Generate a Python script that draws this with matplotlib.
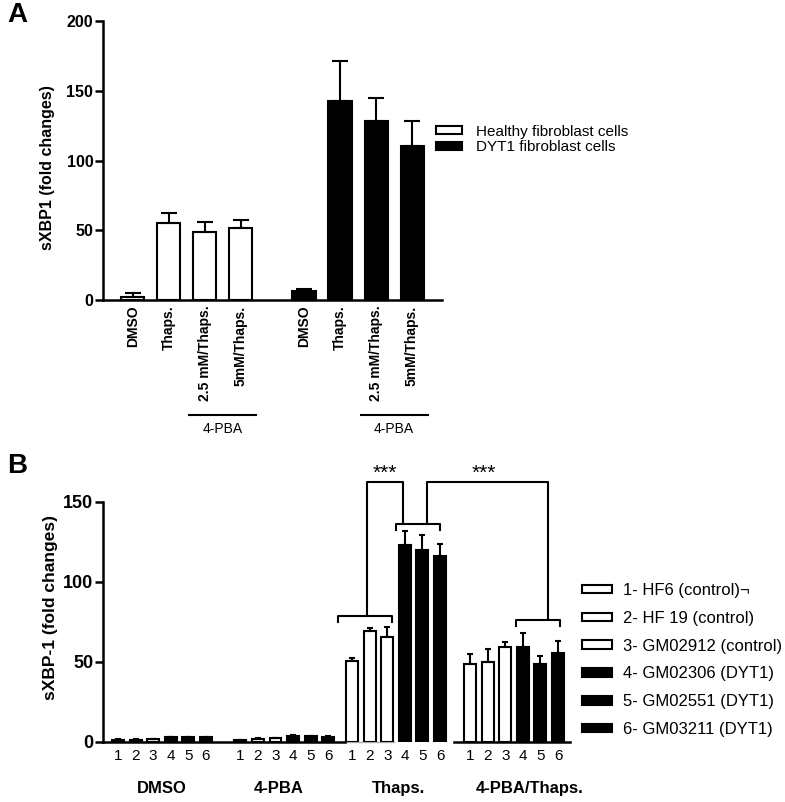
import matplotlib
matplotlib.use('Agg')
import matplotlib.pyplot as plt
import matplotlib.transforms as mtransforms
from matplotlib.patches import Patch

plt.rcParams['font.family'] = ['Liberation Sans', 'DejaVu Sans']
plt.rcParams['font.size'] = 10

# ---- panel A data ----
a_labels = ['DMSO', 'Thaps.', '2.5 mM/Thaps.', '5mM/Thaps.']
a_healthy = [2.5, 55, 49, 51.5]
a_healthy_err = [2.5, 7.5, 7.0, 6.0]
a_dyt1 = [6.5, 143, 128, 110.5]
a_dyt1_err = [1.5, 28, 16.5, 17.5]
a_series = ['Healthy fibroblast cells', 'DYT1 fibroblast cells']

# ---- panel B data ----
b_groups = ['DMSO', '4-PBA', 'Thaps.', '4-PBA/Thaps.']
b_lines = ['1- HF6 (control)\u00ac', '2- HF 19 (control)', '3- GM02912 (control)',
           '4- GM02306 (DYT1)', '5- GM02551 (DYT1)', '6- GM03211 (DYT1)']
b_ticks = ['1', '2', '3', '4', '5', '6']
b_dmso = [1.2, 1.3, 1.4, 2.8, 2.9, 2.8]
b_dmso_err = [0.2, 0.2, 0.2, 0.3, 0.3, 0.3]
b_pba = [1.1, 1.7, 2.1, 3.6, 3.4, 3.0]
b_pba_err = [0.2, 0.3, 0.3, 0.4, 0.3, 0.3]
b_thaps = [50.6, 69.4, 65.6, 123.2, 120.0, 116.3]
b_thaps_err = [2.0, 1.6, 6.0, 8.4, 9.5, 7.4]
b_pba_thaps = [48.7, 49.7, 59.1, 59.1, 48.7, 55.8]
b_pba_thaps_err = [6.2, 8.3, 3.2, 8.8, 5.2, 6.9]
b_colors = ['white', 'white', 'white', 'black', 'black', 'black']

LW = 1.5
fig = plt.figure(figsize=(7.85, 8.02), dpi=100)


def style_axis(ax, tick_size):
    for s in ('top', 'right'):
        ax.spines[s].set_visible(False)
    for s in ('left', 'bottom'):
        ax.spines[s].set_linewidth(1.8)
    ax.tick_params(axis='y', length=6, width=1.8, pad=1)
    for lab in ax.get_yticklabels():
        lab.set_fontweight('bold')
        lab.set_fontsize(tick_size)


# ================= Panel A =================
axA = fig.add_axes([0.1312, 0.6259, 0.4318, 0.3479])
xa_h = [0, 1, 2, 3]
xa_d = [4.75 + i for i in range(4)]
axA.bar(xa_h, a_healthy, width=0.64, color='white', edgecolor='black', lw=LW,
        yerr=[[0] * 4, a_healthy_err], error_kw=dict(elinewidth=LW, capsize=6, capthick=LW),
        label=a_series[0], zorder=2)
axA.bar(xa_d, a_dyt1, width=0.64, color='black', edgecolor='black', lw=LW,
        yerr=[[0] * 4, a_dyt1_err], error_kw=dict(elinewidth=LW, capsize=6, capthick=LW),
        label=a_series[1], zorder=2)
axA.set_xlim(-0.83, 8.58)
axA.set_ylim(0, 200)
axA.set_yticks([0, 50, 100, 150, 200])
axA.set_xticks(xa_h + xa_d)
axA.set_xticklabels(a_labels * 2, rotation=90, fontweight='bold', fontsize=10)
axA.tick_params(axis='x', length=0, pad=4)
style_axis(axA, 11.5)
axA.set_ylabel('sXBP1 (fold changes)', fontweight='bold', fontsize=11.5)
axA.yaxis.set_label_coords(-0.142, 0.475)

trA = mtransforms.blended_transform_factory(axA.transData, axA.transAxes)
for xs in (xa_h, xa_d):
    c = (xs[2] + xs[3]) / 2
    axA.plot([c - 0.93, c + 0.93], [-0.412, -0.412], color='black', lw=1.5,
             transform=trA, clip_on=False)
    axA.text(c, -0.462, '4-PBA', transform=trA, ha='center', va='center', fontsize=10)

fig.legend(handles=[Patch(facecolor='white', edgecolor='black', lw=LW, label=a_series[0]),
                    Patch(facecolor='black', edgecolor='black', lw=LW, label=a_series[1])],
           loc='center left', bbox_to_anchor=(0.556, 0.826), frameon=False,
           borderpad=0, borderaxespad=0, handlelength=1.7, handleheight=0.45,
           handletextpad=0.9, labelspacing=0.1, fontsize=11)

# ================= Panel B =================
axB = fig.add_axes([0.1312, 0.0752, 0.5949, 0.2989])
group_start = [0, 6.95, 13.3, 20.0]
b_vals = [b_dmso, b_pba, b_thaps, b_pba_thaps]
b_errs = [b_dmso_err, b_pba_err, b_thaps_err, b_pba_thaps_err]
pos = [[s + j for j in range(6)] for s in group_start]
for g in range(4):
    axB.bar(pos[g], b_vals[g], width=0.68, color=b_colors, edgecolor='black', lw=LW,
            yerr=[[0] * 6, b_errs[g]],
            error_kw=dict(elinewidth=LW, capsize=2.5, capthick=LW), zorder=2)
axB.set_xlim(-0.85, 25.68)
axB.set_ylim(0, 150)
axB.set_yticks([0, 50, 100, 150])
axB.set_xticks([p for grp in pos for p in grp])
axB.set_xticklabels(b_ticks * 4, fontsize=11)
axB.tick_params(axis='x', length=0, pad=5)
style_axis(axB, 13)
axB.spines['bottom'].set_visible(False)
axB.set_ylabel('sXBP-1 (fold changes)', fontweight='bold', fontsize=12.5)
axB.yaxis.set_label_coords(-0.096, 0.56)

# broken baseline
axB.plot([-0.85, group_start[2] - 0.4], [0, 0], color='black', lw=1.8, clip_on=False, zorder=3)
axB.plot([group_start[2] - 0.4, group_start[2] + 2.4], [0, 0], color='#aaaaaa', lw=1.0,
         clip_on=False, zorder=1)
axB.plot([group_start[3] - 0.91, 25.68], [0, 0], color='black', lw=1.8, clip_on=False, zorder=3)

trB = mtransforms.blended_transform_factory(axB.transData, axB.transAxes)
label_shift = [0, -0.3, 0.15, 0.9]
for g in range(4):
    c = (pos[g][0] + pos[g][5]) / 2 + label_shift[g]
    axB.text(c, -0.195, b_groups[g], transform=trB, ha='center', va='center',
             fontweight='bold', fontsize=12)


def bracket(x0, x1, y, tick):
    axB.plot([x0, x0, x1, x1], [y - tick, y, y, y - tick], color='black', lw=1.5,
             clip_on=False)


th = [v + e for v, e in zip(b_thaps, b_thaps_err)]
pt = [v + e for v, e in zip(b_pba_thaps, b_pba_thaps_err)]
y1 = max(th[:3]) + 7
y2 = max(th[3:]) + 4.8
y3 = max(pt[3:]) + 8.4
ytop = 162.7
bracket(pos[2][0] - 0.8, pos[2][2] + 0.27, y1, 3.6)
bracket(pos[2][3] - 0.5, pos[2][5], y2, 3.8)
bracket(pos[3][3] - 0.4, pos[3][5] + 0.1, y3, 3.6)
xa, xb = pos[2][1] - 0.15, pos[2][3] - 0.1
axB.plot([xa, xa, xb, xb], [y1, ytop, ytop, y2], color='black', lw=1.5, clip_on=False)
xc, xd = pos[2][4] + 0.24, pos[3][4] + 0.45
axB.plot([xc, xc, xd, xd], [y2, ytop, ytop, y3], color='black', lw=1.5, clip_on=False)
axB.text((xa + xb) / 2, ytop - 1, '***', ha='center', va='bottom', fontsize=15)
axB.text((xc + xd) / 2 - 0.2, ytop - 1, '***', ha='center', va='bottom', fontsize=15)

fig.legend(handles=[Patch(facecolor=c, edgecolor='black', lw=LW, label=l)
                    for c, l in zip(b_colors, b_lines)],
           loc='center left', bbox_to_anchor=(0.741, 0.177), frameon=False,
           borderpad=0, borderaxespad=0, handlelength=1.8, handleheight=0.42,
           handletextpad=0.66, labelspacing=0.77, fontsize=12)

fig.text(0.009, 0.981, 'A', fontsize=20, fontweight='bold', va='center')
fig.text(0.009, 0.419, 'B', fontsize=20, fontweight='bold', va='center')

fig.savefig('out.png', dpi=100)
